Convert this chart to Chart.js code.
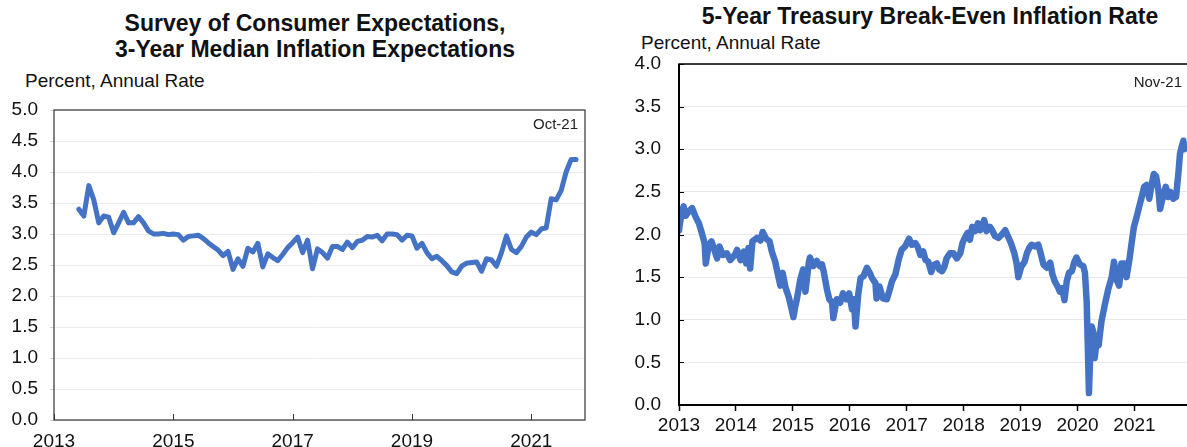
<!DOCTYPE html>
<html>
<head>
<meta charset="utf-8">
<script src="https://cdn.jsdelivr.net/npm/chart.js@4"></script>
<style>
  body { margin: 0; width: 1187px; height: 447px; overflow: hidden; background: #fff; position: relative;
         font-family: "Liberation Sans", Arial, sans-serif; color: #111; }
  .title { position: absolute; font-weight: bold; font-size: 23px; line-height: 26px; text-align: center; white-space: nowrap; }
  .unit { position: absolute; font-size: 19px; line-height: 19px; white-space: nowrap; }
  canvas { position: absolute; top: 0; }
</style>
</head>
<body>
<div class="title" style="left:0; width:630px; top:10px;">Survey of Consumer Expectations,<br>3-Year Median Inflation Expectations</div>
<div class="unit" style="left:25px; top:71px;">Percent, Annual Rate</div>
<div class="title" style="left:630px; width:600px; top:3px;">5-Year Treasury Break-Even Inflation Rate</div>
<div class="unit" style="left:641px; top:33px;">Percent, Annual Rate</div>

<canvas id="sceChart" width="600" height="447" style="left:0;"></canvas>
<canvas id="beChart" width="600" height="447" style="left:600px;"></canvas>

<script>
// NY Fed SCE, 3-year ahead median, monthly from Jun 2013 to Oct 2021
const sceStartYear = 2013;
const sceStartMonth = 6;
const sceValues = [
  3.40, 3.29, 3.78, 3.55, 3.18, 3.29, 3.27,
  3.02, 3.18, 3.35, 3.18, 3.18, 3.28, 3.18, 3.05, 3.00, 3.00, 3.01, 2.99,
  3.00, 2.99, 2.90, 2.96, 2.97, 2.98, 2.93, 2.86, 2.80, 2.74, 2.65, 2.72,
  2.43, 2.60, 2.48, 2.77, 2.71, 2.85, 2.47, 2.68, 2.62, 2.57, 2.67, 2.78,
  2.86, 2.95, 2.70, 2.90, 2.44, 2.76, 2.70, 2.61, 2.80, 2.80, 2.75, 2.87,
  2.78, 2.88, 2.90, 2.96, 2.95, 2.98, 2.89, 3.00, 3.00, 2.99, 2.90, 2.98,
  2.97, 2.77, 2.85, 2.70, 2.60, 2.64, 2.57, 2.49, 2.39, 2.36, 2.48, 2.53,
  2.54, 2.55, 2.40, 2.60, 2.58, 2.48, 2.70, 2.97, 2.75, 2.70, 2.80, 2.95,
  3.03, 2.99, 3.08, 3.10, 3.57, 3.55, 3.70, 4.00, 4.20, 4.20
];
const sceYearTicks = [2013, 2015, 2017, 2019, 2021];
const sceValueTicks = [0, 0.5, 1, 1.5, 2, 2.5, 3, 3.5, 4, 4.5, 5];

// 5-year breakeven (decimal year, percent)
const beYears = [
  2013.00, 2013.02, 2013.08, 2013.12, 2013.17, 2013.23, 2013.29, 2013.35, 2013.40, 2013.45,
  2013.47, 2013.52, 2013.57, 2013.63, 2013.67, 2013.71, 2013.77, 2013.84, 2013.90, 2013.98,
  2014.02, 2014.08, 2014.14, 2014.18, 2014.22, 2014.25, 2014.29, 2014.37, 2014.43, 2014.47,
  2014.53, 2014.59, 2014.63, 2014.69, 2014.74, 2014.78, 2014.82, 2014.87, 2014.93, 2014.97,
  2015.01, 2015.04, 2015.07, 2015.13, 2015.18, 2015.22, 2015.28, 2015.30, 2015.36, 2015.42,
  2015.47, 2015.51, 2015.54, 2015.60, 2015.64, 2015.69, 2015.71, 2015.77, 2015.83, 2015.88,
  2015.94, 2015.99, 2016.04, 2016.07, 2016.10, 2016.15, 2016.19, 2016.24, 2016.30, 2016.35,
  2016.39, 2016.45, 2016.47, 2016.52, 2016.58, 2016.65, 2016.70, 2016.74, 2016.80, 2016.86,
  2016.91, 2016.97, 2017.04, 2017.09, 2017.15, 2017.19, 2017.24, 2017.29, 2017.33, 2017.38,
  2017.43, 2017.47, 2017.53, 2017.57, 2017.62, 2017.66, 2017.70, 2017.76, 2017.82, 2017.88,
  2017.94, 2017.98, 2018.02, 2018.07, 2018.11, 2018.15, 2018.20, 2018.25, 2018.29, 2018.33,
  2018.36, 2018.40, 2018.46, 2018.50, 2018.55, 2018.61, 2018.67, 2018.73, 2018.79, 2018.83,
  2018.89, 2018.93, 2018.96, 2019.01, 2019.07, 2019.11, 2019.15, 2019.19, 2019.25, 2019.31,
  2019.36, 2019.40, 2019.46, 2019.52, 2019.56, 2019.60, 2019.65, 2019.69, 2019.73, 2019.77,
  2019.81, 2019.85, 2019.90, 2019.94, 2019.98, 2020.04, 2020.10, 2020.13, 2020.16, 2020.18,
  2020.20, 2020.22, 2020.25, 2020.28, 2020.30, 2020.33, 2020.37, 2020.42, 2020.48, 2020.54,
  2020.60, 2020.64, 2020.69, 2020.73, 2020.77, 2020.83, 2020.86, 2020.91, 2020.95, 2020.99,
  2021.04, 2021.08, 2021.12, 2021.17, 2021.21, 2021.26, 2021.30, 2021.34, 2021.38, 2021.42,
  2021.45, 2021.49, 2021.55, 2021.59, 2021.63, 2021.68, 2021.73, 2021.77, 2021.80, 2021.83,
  2021.86, 2021.87
];
const beValues = [
  2.05, 2.15, 2.33, 2.22, 2.27, 2.31, 2.21, 2.13, 2.02, 1.90,
  1.66, 1.87, 1.92, 1.80, 1.72, 1.86, 1.76, 1.78, 1.70, 1.76,
  1.82, 1.70, 1.80, 1.66, 1.84, 1.60, 1.92, 1.96, 1.93, 2.03,
  1.95, 1.92, 1.80, 1.68, 1.52, 1.40, 1.55, 1.38, 1.26, 1.15,
  1.03, 1.15, 1.24, 1.47, 1.59, 1.33, 1.67, 1.73, 1.63, 1.69,
  1.63, 1.65, 1.57, 1.35, 1.24, 1.20, 1.02, 1.24, 1.20, 1.31,
  1.24, 1.31, 1.12, 1.24, 0.92, 1.31, 1.49, 1.51, 1.61, 1.55,
  1.49, 1.43, 1.25, 1.39, 1.25, 1.24, 1.35, 1.45, 1.53, 1.71,
  1.82, 1.86, 1.95, 1.88, 1.90, 1.86, 1.76, 1.80, 1.70, 1.68,
  1.56, 1.64, 1.66, 1.59, 1.57, 1.62, 1.72, 1.78, 1.78, 1.72,
  1.78, 1.90, 1.96, 2.02, 1.94, 2.09, 2.04, 2.13, 2.05, 2.11,
  2.17, 2.04, 2.09, 2.05, 1.98, 1.96, 2.00, 2.05, 1.96, 1.90,
  1.78, 1.66, 1.50, 1.62, 1.68, 1.78, 1.84, 1.88, 1.86, 1.88,
  1.76, 1.65, 1.61, 1.67, 1.53, 1.45, 1.39, 1.33, 1.37, 1.23,
  1.45, 1.55, 1.57, 1.67, 1.73, 1.65, 1.63, 1.55, 1.22, 0.70,
  0.14, 0.55, 0.92, 0.85, 0.55, 0.72, 0.70, 0.98, 1.18, 1.36,
  1.50, 1.68, 1.46, 1.40, 1.66, 1.66, 1.50, 1.70, 1.90, 2.09,
  2.21, 2.32, 2.42, 2.56, 2.58, 2.42, 2.58, 2.71, 2.68, 2.52,
  2.30, 2.42, 2.56, 2.44, 2.50, 2.42, 2.44, 2.71, 2.95, 3.03,
  3.10, 3.00
];
const beYearTicks = [2013, 2014, 2015, 2016, 2017, 2018, 2019, 2020, 2021];
const beValueTicks = [0, 0.5, 1, 1.5, 2, 2.5, 3, 3.5, 4];

Chart.defaults.font.family = '"Liberation Sans", Arial, sans-serif';
Chart.defaults.color = '#111';

const scePoints = sceValues.map((v, i) => ({ x: sceStartYear + (sceStartMonth - 1 + i) / 12, y: v }));
const bePoints = beValues.map((v, i) => ({ x: beYears[i], y: v }));

// box, inward tick marks and the "last obs" note
const framePlugin = {
  id: 'frame',
  afterDraw(chart, args, opts) {
    const { ctx, chartArea: a, scales } = chart;
    ctx.save();
    ctx.strokeStyle = opts.color;
    if (opts.tickX) {
      ctx.lineWidth = 1;
      scales.x.ticks.forEach(t => {
        const px = Math.round(scales.x.getPixelForValue(t.value)) + 0.5;
        ctx.beginPath(); ctx.moveTo(px, a.bottom); ctx.lineTo(px, a.bottom - opts.tickX); ctx.stroke();
      });
    }
    if (opts.tickY) {
      ctx.lineWidth = 1;
      scales.y.ticks.forEach(t => {
        const py = Math.round(scales.y.getPixelForValue(t.value)) + 0.5;
        ctx.beginPath(); ctx.moveTo(a.left, py); ctx.lineTo(a.left + opts.tickY, py); ctx.stroke();
      });
    }
    ctx.lineWidth = opts.width;
    ctx.strokeRect(a.left, a.top, a.right - a.left, a.bottom - a.top);
    if (opts.leftWidth) {
      ctx.lineWidth = opts.leftWidth;
      ctx.beginPath(); ctx.moveTo(a.left, a.top); ctx.lineTo(a.left, a.bottom); ctx.lineTo(a.right, a.bottom); ctx.stroke();
    }
    ctx.fillStyle = '#222';
    ctx.font = '15px "Liberation Sans", Arial, sans-serif';
    ctx.textAlign = 'right';
    ctx.fillText(opts.note, opts.noteX, opts.noteY);
    ctx.restore();
  }
};

new Chart(document.getElementById('sceChart'), {
  type: 'line',
  data: {
    datasets: [{
      data: scePoints,
      borderColor: '#4472C4',
      borderWidth: 5,
      borderJoinStyle: 'round',
      borderCapStyle: 'round',
      pointRadius: 0,
      tension: 0,
    }],
  },
  options: {
    responsive: false,
    animation: false,
    layout: { padding: { top: 110, right: 15, bottom: 0, left: 0 } },
    plugins: {
      legend: { display: false },
      tooltip: { enabled: false },
      frame: { color: '#333', width: 1.2, tickX: 6, note: 'Oct-21', noteX: 578, noteY: 129 },
    },
    scales: {
      x: {
        type: 'linear', min: 2013, max: 2021.9,
        grid: { display: false },
        border: { display: false },
        ticks: { font: { size: 19 }, padding: 2, maxRotation: 0, autoSkip: false, callback: v => String(v) },
        afterBuildTicks: s => { s.ticks = sceYearTicks.map(v => ({ value: v })); },
        afterFit: s => { s.height = 27; },
      },
      y: {
        min: 0, max: 5,
        grid: { color: '#ececec', tickLength: 4, tickColor: '#d4d4d4' },
        border: { display: false },
        ticks: { font: { size: 19 }, padding: 12, callback: v => Number(v).toFixed(1) },
        afterBuildTicks: s => { s.ticks = sceValueTicks.map(v => ({ value: v })); },
        afterFit: s => { s.width = 54; },
      },
    },
  },
  plugins: [framePlugin],
});

new Chart(document.getElementById('beChart'), {
  type: 'line',
  data: {
    datasets: [{
      data: bePoints,
      borderColor: '#4472C4',
      borderWidth: 6.5,
      borderJoinStyle: 'round',
      borderCapStyle: 'round',
      pointRadius: 0,
      tension: 0,
    }],
  },
  options: {
    responsive: false,
    animation: false,
    layout: { padding: { top: 64, right: 12, bottom: 0, left: 0 } },
    plugins: {
      legend: { display: false },
      tooltip: { enabled: false },
      frame: { color: '#000', width: 1.5, leftWidth: 2, tickY: 5, note: 'Nov-21', noteX: 582, noteY: 87 },
    },
    scales: {
      x: {
        type: 'linear', min: 2013, max: 2021.94,
        grid: { drawOnChartArea: false, tickLength: 6, tickColor: '#000', tickWidth: 1.5 },
        border: { display: false },
        ticks: { font: { size: 19 }, padding: 3, maxRotation: 0, autoSkip: false, callback: v => String(v) },
        afterBuildTicks: s => { s.ticks = beYearTicks.map(v => ({ value: v })); },
        afterFit: s => { s.height = 42; },
      },
      y: {
        min: 0, max: 4,
        grid: { color: '#e8e8e8', drawTicks: false },
        border: { display: false },
        ticks: { font: { size: 19 }, padding: 18, callback: v => Number(v).toFixed(1) },
        afterBuildTicks: s => { s.ticks = beValueTicks.map(v => ({ value: v })); },
        afterFit: s => { s.width = 79; },
      },
    },
  },
  plugins: [framePlugin],
});
</script>
</body>
</html>
